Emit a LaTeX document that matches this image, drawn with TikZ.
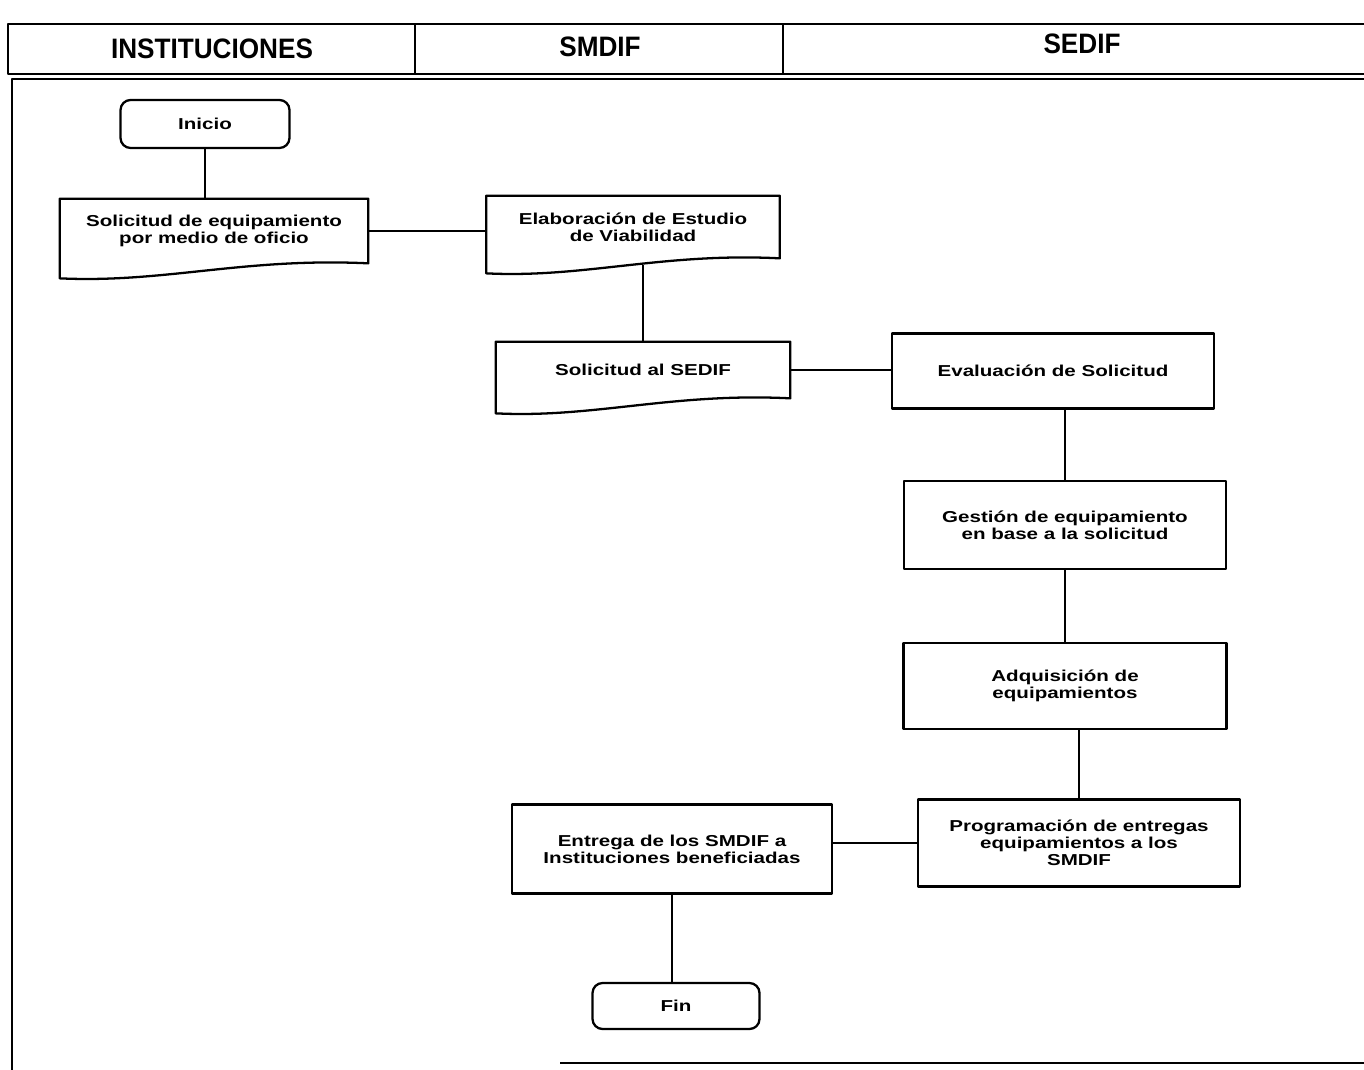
\documentclass[tikz,border=0pt]{standalone}
\usepackage{fontspec}
\setmainfont{Liberation Sans}
\newfontfamily\cajafont[FakeStretch=1.3]{Liberation Sans}
\newfontfamily\encfont[FakeStretch=0.93]{Liberation Sans}
\usetikzlibrary{calc}

% contorno de documento (fondo ondulado)
\newcommand{\documento}[1]{%
  \draw[line width=1.3pt] (#1.north west) -- (#1.north east) -- (#1.south east)
    .. controls ($(#1.south)+(30,-6)$) and ($(#1.south)+(-50,20)$) .. ($(#1.south west)+(0,15)$) -- cycle;
  \coordinate (#1-b) at ($(#1.south)+(0,7)$);}

\begin{document}
\begin{tikzpicture}[x=0.02cm, y=-0.02cm, line join=round,
    every node/.style={font=\cajafont\bfseries\fontsize{9}{9.8}\selectfont},
    caja/.style={draw, line width=1.3pt, align=center, inner sep=0pt},
    terminal/.style={caja, rounded corners=0.2cm},
    docu/.style={align=center, inner sep=0pt},
    linea/.style={line width=0.8pt},
    encabezado/.style={font=\encfont\bfseries\fontsize{16}{18}\selectfont}]
    \useasboundingbox (0,0) rectangle (1364,1070);

    % marco y encabezados
    \draw[line width=1.2pt] (1364,24) -- (8,24) -- (8,74) -- (1364,74);
    \draw[line width=1.2pt] (415,24) -- (415,74);
    \draw[line width=1.2pt] (783,24) -- (783,74);
    \draw[line width=1.2pt] (1364,79) -- (12,79) -- (12,1070);
    \draw[line width=1.2pt] (560,1063) -- (1364,1063);

    \node[encabezado] (hinst) at (212,49) {INSTITUCIONES};
    \node[encabezado] (hsmdif) at (600,47) {SMDIF};
    \node[encabezado] (hsedif) at (1082,44) {SEDIF};

    % nodos
    \node[terminal, minimum width=3.38cm, minimum height=0.96cm] (inicio) at (205,124) {Inicio};
    \node[docu, minimum width=6.16cm, minimum height=1.28cm] (solicitud) at (214,231) {Solicitud de equipamiento\\por medio de oficio};
    \node[docu, minimum width=5.86cm, minimum height=1.24cm] (elab) at (633,227) {Elaboración de Estudio\\de Viabilidad};
    \node[docu, minimum width=5.88cm, minimum height=1.12cm] (solsedif) at (643,370) {Solicitud al SEDIF};
    \node[caja, minimum width=6.44cm, minimum height=1.5cm] (eval) at (1053,371) {Evaluación de Solicitud};
    \node[caja, minimum width=6.44cm, minimum height=1.76cm] (gest) at (1065,525) {Gestión de equipamiento\\en base a la solicitud};
    \node[caja, minimum width=6.46cm, minimum height=1.72cm] (adq) at (1065,686) {Adquisición de\\equipamientos};
    \node[caja, minimum width=6.44cm, minimum height=1.74cm] (prog) at (1079,843) {Programación de entregas\\equipamientos a los\\SMDIF};
    \node[caja, minimum width=6.4cm, minimum height=1.78cm] (entrega) at (672,849) {Entrega de los SMDIF a\\Instituciones beneficiadas};
    \node[terminal, minimum width=3.34cm, minimum height=0.92cm] (fin) at (676,1006) {Fin};

    \documento{solicitud}
    \documento{elab}
    \documento{solsedif}

    % conectores
    \draw[linea] (inicio.south) -- (inicio.south |- solicitud.north);
    \draw[linea] (solicitud.east) -- (solicitud.east -| elab.west);
    \draw[linea] (solsedif.north) -- (solsedif.north |- elab-b);
    \draw[linea] (solsedif.east) -- (solsedif.east -| eval.west);
    \draw[linea] (gest.north) -- (gest.north |- eval.south);
    \draw[linea] (adq.north) -- (adq.north |- gest.south);
    \draw[linea] (prog.north) -- (prog.north |- adq.south);
    \draw[linea] (prog.west) -- (prog.west -| entrega.east);
    \draw[linea] (entrega.south) -- (entrega.south |- fin.north);
\end{tikzpicture}
\end{document}
